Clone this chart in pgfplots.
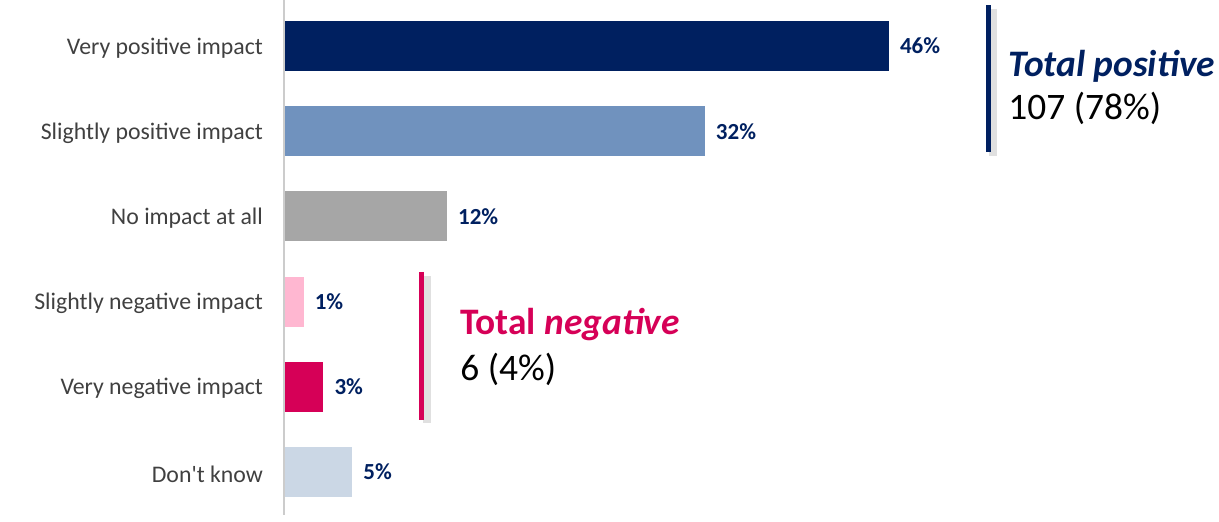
\documentclass[border=0pt]{standalone}
\usepackage{pgfplots}
\pgfplotsset{compat=1.18}
\usepackage{fontspec}
\setmainfont{Carlito}

\definecolor{navy}{HTML}{002060}
\definecolor{midblue}{HTML}{7092BE}
\definecolor{midgrey}{HTML}{A6A6A6}
\definecolor{lightpink}{HTML}{FFB7D1}
\definecolor{magenta}{HTML}{D60057}
\definecolor{paleblue}{HTML}{CBD7E5}
\definecolor{labelgrey}{HTML}{404040}

\begin{document}
\begin{tikzpicture}
\path[use as bounding box] (0,0) rectangle (609.5pt,261pt);
\begin{axis}[
    at={(142pt,0pt)}, anchor=south west,
    scale only axis,
    width=466.9pt, height=261pt,
    xmin=0, xmax=71,
    ymin=-0.54, ymax=5.587,
    y dir=reverse,
    xbar, bar width=25pt, bar shift=0pt,
    axis line style={draw=none},
    xtick=\empty,
    ytick={0,1,2,3,4,5},
    yticklabels={Very positive impact, Slightly positive impact, No impact at all,
                 Slightly negative impact, Very negative impact, Don\textquotesingle t know},
    major tick length=0pt,
    yticklabel style={font=\fontsize{11.9}{14}\selectfont, text=labelgrey, xshift=-7pt, yshift=-1pt},
    point meta=explicit symbolic,
    nodes near coords={\pgfplotspointmeta\%},
    nodes near coords style={font=\fontsize{11.5}{13}\selectfont\bfseries, text=navy, anchor=west, xshift=2pt},
    clip=false,
]
\addplot[fill=navy, draw=none] coordinates {(46,0) [46]};
\addplot[fill=midblue, draw=none] coordinates {(32,1) [32]};
\addplot[fill=midgrey, draw=none] coordinates {(12.4,2) [12]};
\addplot[fill=lightpink, draw=none] coordinates {(1.5,3) [1]};
\addplot[fill=magenta, draw=none] coordinates {(3,4) [3]};
\addplot[fill=paleblue, draw=none] coordinates {(5.2,5) [5]};

% axis line
\draw[gray!40, line width=1pt] (axis cs:0,-0.54) -- (axis cs:0,5.5);

% total positive bracket
\draw[black!12, line width=4pt] (axis cs:53.9,-0.44) -- (axis cs:53.9,1.29);
\draw[navy, line width=2.5pt] (axis cs:53.53,-0.48) -- (axis cs:53.53,1.244);
\node[anchor=west, inner sep=0pt, text=navy, font=\fontsize{18.7}{20}\selectfont\bfseries\itshape]
    at (axis cs:55.05,0.235) {Total positive};
\node[anchor=west, inner sep=0pt, font=\fontsize{18.7}{20}\selectfont]
    at (axis cs:55.05,0.728) {107 (78\%)};

% total negative bracket
\draw[black!12, line width=4pt] (axis cs:10.85,2.7) -- (axis cs:10.85,4.43);
\draw[magenta, line width=2.5pt] (axis cs:10.49,2.65) -- (axis cs:10.49,4.39);
\node[anchor=west, inner sep=0pt, text=magenta, font=\fontsize{18.7}{20}\selectfont\bfseries]
    at (axis cs:13.38,3.27) {Total \textit{negative}};
\node[anchor=west, inner sep=0pt, font=\fontsize{18.7}{20}\selectfont]
    at (axis cs:13.38,3.80) {6 (4\%)};
\end{axis}
\end{tikzpicture}
\end{document}
